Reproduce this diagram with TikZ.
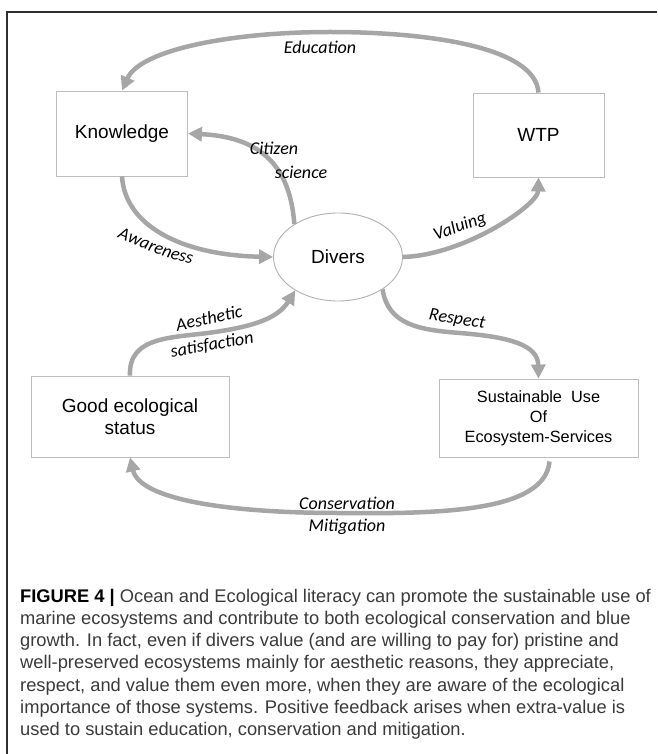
\documentclass[tikz,border=0pt]{standalone}
\usepackage{fontspec}
\setmainfont{Liberation Sans}
\newfontfamily\carlito{Carlito}
\usetikzlibrary{arrows.meta,shapes.geometric,decorations.text}
\definecolor{arrowgray}{HTML}{A6A6A6}
\definecolor{boxgray}{HTML}{BDBDBD}
\definecolor{ellgray}{HTML}{B0B0B0}
\definecolor{framecol}{HTML}{2E2E2E}
\definecolor{captext}{HTML}{3A3A3A}
\newcommand{\boxfont}{\fontsize{19}{22}\selectfont}
\newcommand{\smallboxfont}{\fontsize{16.3}{20}\selectfont}
\newcommand{\labfont}{\carlito\itshape\fontsize{18}{22}\selectfont}
\newcommand{\capfont}{\fontsize{18.3}{22.3}\selectfont}
\begin{document}
\begin{tikzpicture}[x=1pt,y=-1pt,
  box/.style={draw=boxgray, line width=0.9pt, fill=white, inner sep=0pt, font=\boxfont, align=center, text=black},
  flow/.style={draw=arrowgray, line width=4.5pt, -{Triangle[length=14pt,width=14pt]}},
  lab/.style={font=\labfont, inner sep=0pt, text=black},
  capline/.style={font=\capfont, inner sep=0pt, anchor=base west, text=captext}]
\useasboundingbox (0,0) rectangle (657,754);
\draw[framecol, line width=1.4pt] (657,12) -- (7,12) -- (7,754);

% nodes
\node[box, minimum width=131pt, minimum height=85pt] (know) at (122,133.5) {Knowledge};
\node[box, minimum width=131pt, minimum height=84pt] (wtp) at (538.5,135) {WTP};
\node[ellipse, draw=ellgray, line width=0.9pt, minimum width=129pt, minimum height=88pt, inner sep=0pt, font=\boxfont] (div) at (338,257) {Divers};
\node[box, minimum width=198pt, minimum height=81pt] (good) at (130,416.5) {Good ecological\\status};
\node[box, minimum width=199pt, minimum height=78pt, font=\smallboxfont] (sust) at (538.5,418) {Sustainable\ \ Use\\Of\\Ecosystem-Services};

% connectors
\draw[flow] (wtp.north) .. controls (535,45) and (420,32) .. (330,32) .. controls (230,32) and (140,50) .. (know.north);
\draw[flow] (div.143) .. controls (290,165) and (260,137) .. (know.east);
\draw[flow] (know.south) .. controls (125,225) and (180,255) .. (div.west);
\draw[flow] (div.east) .. controls (465,255) and (538,205) .. (wtp.south);
\draw[flow] (good.north) .. controls (128,335) and (175,338) .. (215,332) .. controls (255,326) and (278,318) .. (div.218);
\draw[flow] (div.324) .. controls (388,325) and (420,330) .. (460,333) .. controls (510,337) and (538,345) .. (sust.north);
\draw[flow] ([xshift=11pt,yshift=-4pt]sust.south) .. controls (545,512) and (440,514) .. (340,513) .. controls (230,513) and (140,500) .. (good.south);

% labels
\node[lab] (edu) at (320,47) {Education};
\node[lab] (cit) at (274,148) {Citizen};
\node[lab] (sci) at (301,172) {science};
\path[decorate, decoration={text along path, text={|\labfont|Awareness}, text align=center}] (104,232) .. controls (135,245) and (170,262) .. (206,266);
\node[lab, rotate=20] (val) at (460,227) {Valuing};
\node[lab, rotate=12] (aes) at (209,318) {Aesthetic};
\node[lab, rotate=10] (sat) at (212,345) {satisfaction};
\node[lab, rotate=-9] (res) at (457,320) {Respect};
\node[lab] (con) at (347,503) {Conservation};
\node[lab] (mit) at (347,527) {Mitigation};

% caption
\node[capline] (c1) at (20,602) {\textcolor{black}{\textbf{FIGURE 4 |}} Ocean and Ecological literacy can promote the sustainable use of};
\node[capline] (c2) at (20,624.3) {marine ecosystems and contribute to both ecological conservation and blue};
\node[capline] (c3) at (20,646.6) {growth. In fact, even if divers value (and are willing to pay for) pristine and};
\node[capline] (c4) at (20,668.9) {well-preserved ecosystems mainly for aesthetic reasons, they appreciate,};
\node[capline] (c5) at (20,691.2) {respect, and value them even more, when they are aware of the ecological};
\node[capline] (c6) at (20,713.5) {importance of those systems. Positive feedback arises when extra-value is};
\node[capline] (c7) at (20,735.8) {used to sustain education, conservation and mitigation.};
\end{tikzpicture}
\end{document}
